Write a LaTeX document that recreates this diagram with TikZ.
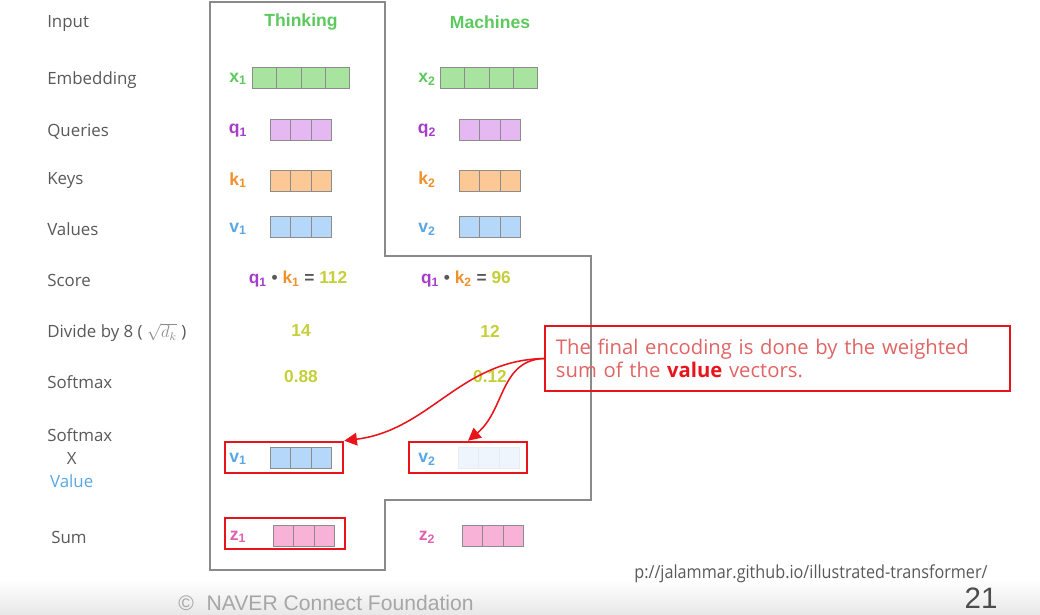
\documentclass[tikz,border=0pt]{standalone}
\usepackage{fontspec}
\setmainfont{Open Sans}
\newfontfamily\arialfont{Liberation Sans}
\usetikzlibrary{arrows.meta}
\definecolor{labelgray}{HTML}{595959}
\definecolor{framegray}{HTML}{8A8A8A}
\definecolor{cellgray}{HTML}{8C8C8C}
\definecolor{xgreen}{HTML}{5CC95C}
\definecolor{xfill}{HTML}{A8E4A0}
\definecolor{qpurple}{HTML}{A63DC9}
\definecolor{qfill}{HTML}{E5B8F2}
\definecolor{korange}{HTML}{F0902A}
\definecolor{kfill}{HTML}{FCC896}
\definecolor{vblue}{HTML}{5AA7E6}
\definecolor{vfill}{HTML}{B5D8FA}
\definecolor{vpale}{HTML}{EEF5FC}
\definecolor{zpink}{HTML}{E060B2}
\definecolor{zfill}{HTML}{F8B2D8}
\definecolor{numyel}{HTML}{C5CF3A}
\definecolor{notered}{HTML}{E8141A}
\definecolor{notetext}{HTML}{E06464}
% a word vector: name, left x, centre y, cells, cell width, cell style
\newcommand{\wordvec}[6]{%
  \foreach \i in {1,...,#4}
    \node[cell,minimum width=#5*0.025cm,#6] (#1-\i) at ({#2+(\i-1)*#5},#3) {};
}

\begin{document}
\begin{tikzpicture}[x=0.025cm,y=-0.025cm,
  rowlabel/.style={anchor=west,inner sep=0pt,yshift=-1pt,text=labelgray,font=\fontsize{12}{16.3}\selectfont},
  word/.style={text=xgreen,font=\arialfont\bfseries\fontsize{12.5}{15}\selectfont},
  veclabel/.style={inner sep=0pt,font=\arialfont\bfseries\fontsize{12.5}{14}\selectfont},
  num/.style={text=numyel,font=\arialfont\bfseries\fontsize{12.3}{14}\selectfont},
  cell/.style={draw=cellgray,anchor=west,minimum height=0.525cm,inner sep=0pt,outer sep=0pt},
  hilite/.style={draw=notered,line width=1.8pt,minimum width=2.95cm,minimum height=0.775cm,inner sep=0pt},
  pointer/.style={draw=notered,line width=1.1pt,-{Triangle[length=9pt,width=9pt]}}]
	\useasboundingbox (0,0) rectangle (1040,614);
	\shade[top color=white,bottom color=black!9] (0,580) rectangle (1040,614);

	\draw[framegray,line width=0.8pt] (210,2) -- (385,2) -- (385,256) -- (591,256) -- (591,500)
		-- (385,500) -- (385,570) -- (210,570) -- cycle;

	\node[rowlabel] (lin) at (47,22) {Input};
	\node[rowlabel] (lemb) at (47,79) {Embedding};
	\node[rowlabel] (lq) at (47,130) {Queries};
	\node[rowlabel] (lk) at (47,179) {Keys};
	\node[rowlabel] (lv) at (47,228) {Values};
	\node[rowlabel] (lscore) at (47,279) {Score};
	\node[rowlabel] (ldiv) at (47,331) {Divide by 8 ( {\color{black!45}$\sqrt{d_k}$} )};
	\node[rowlabel] (lsoft) at (47,381) {Softmax};
	\node[rowlabel,align=left] (lsxv) at (47,457)
		{Softmax\\\hspace*{14pt}X\\\hspace*{2pt}\textcolor{vblue}{Value}};
	\node[rowlabel] (lsum) at (51,536) {Sum};

	\node[word] (w1) at (301,22) {Thinking};
	\node[word] (w2) at (490,22) {Machines};

	\node[hilite] (hv1) at (284,457.5) {};
	\node[hilite] (hv2) at (468,457.5) {};
	\node[hilite,minimum width=3cm] (hz1) at (285,533.5) {};

	\node[veclabel,text=xgreen] (lx1) at (238,79) {x\textsubscript{1}};
	\node[veclabel,text=xgreen] (lx2) at (427,79) {x\textsubscript{2}};
	\node[veclabel,text=qpurple] (lq1) at (238,131) {q\textsubscript{1}};
	\node[veclabel,text=qpurple] (lq2) at (427,131) {q\textsubscript{2}};
	\node[veclabel,text=korange] (lk1) at (238,180) {k\textsubscript{1}};
	\node[veclabel,text=korange] (lk2) at (427,180) {k\textsubscript{2}};
	\node[veclabel,text=vblue] (lv1) at (238,229) {v\textsubscript{1}};
	\node[veclabel,text=vblue] (lv2) at (427,229) {v\textsubscript{2}};
	\node[veclabel,text=vblue] (lsv1) at (238,459) {v\textsubscript{1}};
	\node[veclabel,text=vblue] (lsv2) at (427,459) {v\textsubscript{2}};
	\node[veclabel,text=zpink] (lz1) at (238,537) {z\textsubscript{1}};
	\node[veclabel,text=zpink] (lz2) at (427,537) {z\textsubscript{2}};

	\wordvec{x1}{252}{78}{4}{24.4}{fill=xfill}
	\wordvec{x2}{440}{78}{4}{24.4}{fill=xfill}
	\wordvec{q1}{270}{130}{3}{20.5}{fill=qfill}
	\wordvec{q2}{459}{130}{3}{20.5}{fill=qfill}
	\wordvec{k1}{270}{180.5}{3}{20.5}{fill=kfill}
	\wordvec{k2}{459}{180.5}{3}{20.5}{fill=kfill}
	\wordvec{v1}{270}{227}{3}{20.5}{fill=vfill}
	\wordvec{v2}{459}{227}{3}{20.5}{fill=vfill}
	\wordvec{sv1}{270}{458}{3}{20.5}{fill=vfill}
	\wordvec{sv2}{458}{458}{3}{20.5}{fill=vpale,draw=black!8}
	\wordvec{z1}{273}{535.5}{3}{20.5}{fill=zfill}
	\wordvec{z2}{462}{535.5}{3}{20.5}{fill=zfill}

	\node[num] (s1) at (298,279) {\textcolor{qpurple}{q\textsubscript{1}} \textcolor{labelgray}{•}
		\textcolor{korange}{k\textsubscript{1}} \textcolor{labelgray}{=} 112};
	\node[num] (s2) at (466,279) {\textcolor{qpurple}{q\textsubscript{1}} \textcolor{labelgray}{•}
		\textcolor{korange}{k\textsubscript{2}} \textcolor{labelgray}{=} 96};
	\node[num] (d1) at (301,331) {14};
	\node[num] (d2) at (490,331) {12};
	\node[num] (p1) at (301,377) {0.88};
	\node[num] (p2) at (490,377) {0.12};

	\node[draw=notered,line width=1.1pt,minimum height=1.625cm,text width=11.075cm,inner xsep=0.275cm,
		align=left,text=notetext,font=\fontsize{14.4}{16.3}\selectfont] (note) at (777.5,358.5)
		{The final encoding is done by the weighted\\sum of the \textbf{\textcolor{notered}{value}} vectors.};

	\draw[pointer] (note.west) .. controls (460,360) and (430,430) .. (hv1.north east);
	\draw[pointer] (note.west) .. controls (500,360) and (505,410) .. (hv2.north);

	\node[text=black!65,font=\fontsize{12.8}{14}\selectfont,xscale=0.9] (url) at (811,574)
		{p://jalammar.github.io/illustrated-transformer/};
	\node[text=black!35,font=\arialfont\fontsize{15}{17}\selectfont] (foot) at (326,603)
		{©\hspace{0.6em}NAVER Connect Foundation};
	\node[inner sep=0pt,text=black!70,font=\arialfont\fontsize{21}{22}\selectfont] (page) at (981,598) {21};
\end{tikzpicture}
\end{document}
